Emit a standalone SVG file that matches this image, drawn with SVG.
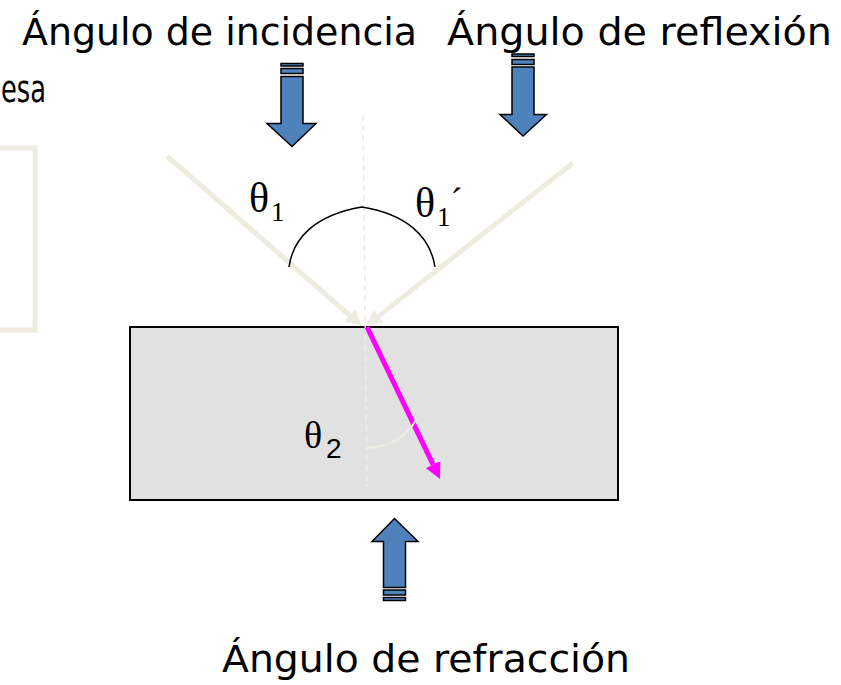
<svg xmlns="http://www.w3.org/2000/svg" width="841" height="685" viewBox="0 0 841 685">
<defs>
<style>
.lbl{font-family:"DejaVu Sans","Liberation Sans",sans-serif;font-size:37px;fill:#000}
.th{font-family:"Liberation Serif","DejaVu Serif",serif;fill:#000}
.sub{font-family:"Liberation Serif","DejaVu Serif",serif;fill:#000}
.ray{stroke:#EEECE1;stroke-width:5;fill:none}
.blue{fill:#4F81BD;stroke:#000;stroke-width:1.5;stroke-linejoin:miter}
</style>
<marker id="hBeige" viewBox="0 0 10 10" refX="0" refY="5" markerWidth="3.2" markerHeight="3.2" orient="auto">
<path d="M0,0 L10,5 L0,10 z" fill="#EEECE1"/>
</marker>
<marker id="hMag" viewBox="0 0 10 10" refX="0" refY="5" markerWidth="3.2" markerHeight="3.2" orient="auto">
<path d="M0,0 L10,5 L0,10 z" fill="#FF00FF"/>
</marker>
</defs>
<rect width="841" height="685" fill="#fff"/>

<g id="left-frame">
<rect x="-10" y="148" width="45" height="182" fill="none" stroke="#EEECE1" stroke-width="5"/>
<text class="lbl" x="1" y="102" textLength="45" lengthAdjust="spacingAndGlyphs">esa</text>
</g>

<g id="block">
<rect x="130" y="327" width="488" height="173" fill="#E1E1E1" stroke="#000" stroke-width="2"/>
</g>

<g id="connectors">
<line x1="363" y1="115" x2="367" y2="487" stroke="#EEECE1" stroke-width="1.5" stroke-dasharray="6,4"/>
<line class="ray" x1="167" y1="156" x2="349.9" y2="315.5" marker-end="url(#hBeige)"/>
<line class="ray" x1="573" y1="163" x2="378.6" y2="316.1" marker-end="url(#hBeige)"/>
<line x1="367" y1="327" x2="433.1" y2="464.6" stroke="#FF00FF" stroke-width="5" marker-end="url(#hMag)"/>
<path d="M289,267 C293,238 315,215 362,207 C405,214 430,235 435,267" fill="none" stroke="#000" stroke-width="1.5"/>
<path d="M368,448 Q401,446 416,420" fill="none" stroke="#EEECE1" stroke-width="2"/>
</g>

<g id="theta1">
<text class="th" x="249" y="212" font-size="42">θ</text>
<text class="sub" x="271" y="221" font-size="27">1</text>
</g>
<g id="theta1p">
<text class="th" x="415" y="217" font-size="42">θ</text>
<text class="sub" x="437" y="226" font-size="27">1<tspan dy="-13" font-size="36">´</tspan></text>
</g>
<g id="theta2">
<text class="th" x="304" y="448" font-size="38">θ</text>
<text x="326" y="458" font-size="28" font-family="Liberation Sans, Arial, sans-serif">2</text>
</g>

<g id="label-incidencia">
<text class="lbl" x="22" y="45" textLength="395" lengthAdjust="spacingAndGlyphs">Ángulo de incidencia</text>
</g>
<g id="label-reflexion">
<text class="lbl" x="447" y="45" textLength="385" lengthAdjust="spacingAndGlyphs">Ángulo de reflexión</text>
</g>
<g id="label-refraccion">
<text class="lbl" x="222" y="672" textLength="408" lengthAdjust="spacingAndGlyphs">Ángulo de refracción</text>
</g>

<g id="arrow-incidencia">
<rect class="blue" x="281" y="63.5" width="22" height="2.5"/>
<rect class="blue" x="281" y="68.5" width="22" height="5"/>
<path class="blue" d="M281,76.5 H303 V123.5 H316 L292,146.5 L267,123.5 H281 Z"/>
</g>
<g id="arrow-reflexion">
<rect class="blue" x="512" y="54" width="22" height="2.5"/>
<rect class="blue" x="512" y="59.5" width="22" height="5"/>
<path class="blue" d="M512,67 H534 V114.5 H546.5 L523,136 L500,114.5 H512 Z"/>
</g>
<g id="arrow-refraccion">
<path class="blue" d="M383.5,587.5 V541.5 H372 L394.5,518.5 L418,541.5 H405.5 V587.5 Z"/>
<rect class="blue" x="383.5" y="590" width="22" height="5"/>
<rect class="blue" x="383.5" y="597.5" width="22" height="3"/>
</g>
</svg>
